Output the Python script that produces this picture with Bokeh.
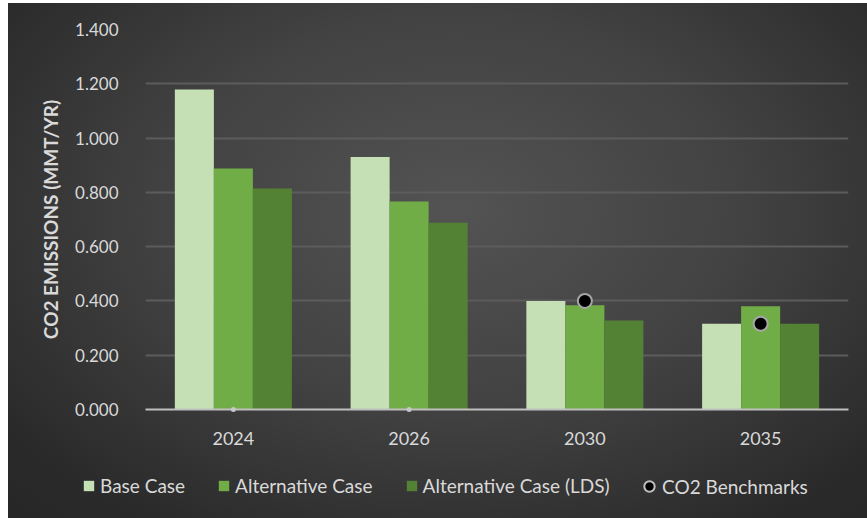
from bokeh.plotting import figure
from bokeh.layouts import column
from bokeh.models import FixedTicker, NumeralTickFormatter, Legend, LegendItem, Range1d, FactorRange
from bokeh.transform import dodge
from bokeh.embed import file_html
from bokeh.resources import INLINE

# Data
years = ["2024", "2026", "2030", "2035"]
base_case = [1.179, 0.930, 0.400, 0.316]
alternative_case = [0.888, 0.766, 0.384, 0.380]
alternative_lds = [0.814, 0.688, 0.328, 0.316]
co2_benchmarks = [0.0, 0.0, 0.400, 0.316]
y_ticks = [0.0, 0.2, 0.4, 0.6, 0.8, 1.0, 1.2, 1.4]
series_names = ["Base Case", "Alternative Case", "Alternative Case (LDS)", "CO2 Benchmarks"]

FONT = "Lato"
TEXT = "#d9d9d9"
COLORS = ["#c5e0b4", "#70ad47", "#548235"]

p = figure(
    x_range=FactorRange(*years),
    y_range=Range1d(0, 1.4),
    width=859, height=460,
    output_backend="svg", toolbar_location=None,
    min_border_left=137, min_border_right=19,
    min_border_top=26, min_border_bottom=54,
)
p.background_fill_alpha = 0
p.border_fill_alpha = 0
p.outline_line_color = None

w = 0.222
for vals, off, col in zip([base_case, alternative_case, alternative_lds], [-w, 0, w], COLORS):
    p.vbar(x=dodge("x", off, range=p.x_range), top="y", width=w,
           source=dict(x=years, y=vals), fill_color=col, line_color=None)

# zero-valued benchmarks show only as small dots on the baseline
zero_years = [y for y, v in zip(years, co2_benchmarks) if v == 0]
zero_vals = [v for v in co2_benchmarks if v == 0]
p.scatter(x=zero_years, y=zero_vals, size=5, fill_color="#c8c8c8",
          line_color=None, level="overlay")

bm_years = [y for y, v in zip(years, co2_benchmarks) if v > 0]
bm_vals = [v for v in co2_benchmarks if v > 0]
p.scatter(x=bm_years, y=bm_vals, size=14, fill_color="black",
          line_color="#a6a6a6", line_width=2)

# axes and grid
p.yaxis.ticker = FixedTicker(ticks=y_ticks)
p.yaxis.formatter = NumeralTickFormatter(format="0.000")
p.yaxis.axis_line_color = None
p.yaxis.major_tick_line_color = None
p.yaxis.minor_tick_line_color = None
p.yaxis.major_label_standoff = 21
p.yaxis.major_label_text_font = FONT
p.yaxis.major_label_text_font_size = "17px"
p.yaxis.major_label_text_color = TEXT
p.yaxis.axis_label = "CO2 EMISSIONS (MMT/YR)"
p.yaxis.axis_label_text_font = FONT
p.yaxis.axis_label_text_font_style = "bold"
p.yaxis.axis_label_text_font_size = "19px"
p.yaxis.axis_label_text_color = TEXT
p.yaxis.axis_label_standoff = 10

p.xaxis.axis_line_color = "#bfbfbf"
p.xaxis.axis_line_width = 2
p.xaxis.major_tick_line_color = None
p.xaxis.minor_tick_line_color = None
p.xaxis.major_label_standoff = 16
p.xaxis.major_label_text_font = FONT
p.xaxis.major_label_text_font_size = "18px"
p.xaxis.major_label_text_color = TEXT

p.xgrid.grid_line_color = None
p.ygrid.grid_line_color = "#5c5c5c"
p.ygrid.grid_line_width = 2
p.x_range.range_padding = 0
p.x_range.group_padding = 0

# legend strip under the chart
lf = figure(width=859, height=55, x_range=Range1d(0, 1), y_range=Range1d(0, 1),
            output_backend="svg", toolbar_location=None, min_border=0)
lf.axis.visible = False
lf.grid.visible = False
lf.outline_line_color = None
lf.background_fill_alpha = 0
lf.border_fill_alpha = 0

# swatch glyphs sit outside the visible range; only their legend entries show
swatches = [lf.vbar(x=[5], top=[5], bottom=[4], width=0.1, fill_color=c, line_color=None)
            for c in COLORS]
bench_swatch = lf.scatter(x=[5], y=[5], size=14, fill_color="black",
                          line_color="#bfbfbf", line_width=2)

common = dict(
    orientation="horizontal",
    background_fill_alpha=0,
    border_line_color=None,
    label_text_font=FONT,
    label_text_font_size="19px",
    label_text_color=TEXT,
    padding=0, margin=0,
)
bar_legend = Legend(
    items=[LegendItem(label=n, renderers=[r]) for n, r in zip(series_names[:3], swatches)],
    location=(74, 21),
    glyph_width=13, glyph_height=13,
    label_standoff=5, spacing=32,
    **common,
)
bench_legend = Legend(
    items=[LegendItem(label=series_names[3], renderers=[bench_swatch])],
    location=(628, 19),
    glyph_width=26, glyph_height=26,
    label_standoff=0,
    **common,
)
lf.add_layout(bar_legend, "center")
lf.add_layout(bench_legend, "center")

layout = column(p, column(lf, spacing=0), spacing=0)
layout.styles = {
    "margin-left": "8px",
    "margin-top": "3px",
    "background": "radial-gradient(ellipse 75% 85% at 52% 40%, #535353 0%, #424242 45%, #2a2a2a 85%, #262626 100%)",
}

open("out.html", "w").write(file_html(layout, INLINE))
